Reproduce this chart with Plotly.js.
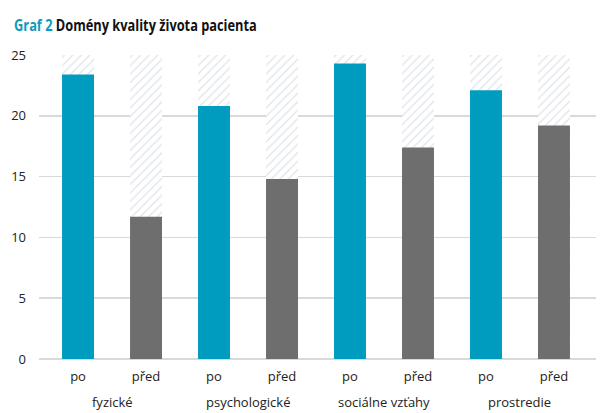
<!DOCTYPE html>
<html>
<head>
<meta charset="utf-8">
<script src="https://cdn.plot.ly/plotly-3.0.1.min.js"></script>
<style>html,body{margin:0;padding:0;background:#fff;}#chart{width:611px;height:413px;}</style>
</head>
<body>
<div id="chart"></div>
<script>
const groupNames = ["fyzické", "psychologické", "sociálne vzťahy", "prostredie"];
const groups = ["fyzické", "fyzické", "psychologické", "psychologické", "sociálne vzťahy", "sociálne vzťahy", "prostredie", "prostredie"];
const periods = ["po", "před", "po", "před", "po", "před", "po", "před"];
const values = [23.4, 11.7, 20.8, 14.8, 24.3, 17.4, 22.1, 19.2];
const maxScore = [25, 25, 25, 25, 25, 25, 25, 25];
const colorPo = "#009cc0";
const colorPred = "#6e6e6e";

const cats = groups.map((g, i) => g + "|" + periods[i]);
const barColors = periods.map(p => p === "po" ? colorPo : colorPred);

const bgTrace = {
  type: "bar",
  x: cats,
  y: maxScore,
  width: 0.47,
  marker: {
    color: "#ffffff",
    line: {width: 0},
    pattern: {shape: "/", fgcolor: "#dfe3e9", bgcolor: "#ffffff", size: 6, solidity: 0.2}
  },
  hoverinfo: "skip",
  showlegend: false
};
const dataTrace = {
  type: "bar",
  x: cats,
  y: values,
  width: 0.47,
  marker: {color: barColors, line: {width: 0}},
  showlegend: false
};

const tickFont = {size: 13, color: "#222222", family: "Open Sans, sans-serif"};

const groupAnnotations = groupNames.map(g => {
  const idx = groups.map((v, i) => v === g ? i : -1).filter(i => i >= 0);
  const mid = (idx[0] + idx[idx.length - 1]) / 2;
  return {
    text: g, x: mid, xref: "x", y: -0.141, yref: "paper",
    xanchor: "center", yanchor: "middle", showarrow: false, font: tickFont
  };
});

const layout = {
  width: 611,
  height: 413,
  margin: {l: 39, r: 15, t: 55, b: 54},
  paper_bgcolor: "#ffffff",
  plot_bgcolor: "#ffffff",
  barmode: "overlay",
  title: {
    text: "<span style='color:#0a9bbd'>Graf 2</span> Domény kvality života pacienta",
    font: {family: "Open Sans, sans-serif", size: 15.5, color: "#111111", weight: 700},
    x: 0.023, xanchor: "left", y: 0.937, yanchor: "middle"
  },
  font: {family: "Open Sans, Noto Sans, sans-serif", size: 12, color: "#222222"},
  xaxis: {
    type: "category",
    range: [-0.574, 7.618],
    tickvals: cats,
    ticktext: periods,
    showline: false,
    ticks: "",
    ticklabelstandoff: 8,
    tickfont: tickFont,
    showgrid: false,
    zeroline: false
  },
  yaxis: {
    range: [0, 25],
    tickvals: [0, 5, 10, 15, 20, 25],
    showgrid: true,
    gridcolor: "#d9d9d9",
    gridwidth: 1.5,
    zeroline: true,
    zerolinecolor: "#d9d9d9",
    zerolinewidth: 1.5,
    ticks: "",
    ticklabelstandoff: 12,
    tickfont: tickFont
  },
  annotations: groupAnnotations
};

Plotly.newPlot("chart", [bgTrace, dataTrace], layout, {displayModeBar: false, staticPlot: true}).then(gd => {
  const g = gd.querySelector(".g-gtitle");
  const t = gd.querySelector(".gtitle");
  if (g && t) {
    const bb = t.getBBox();
    const s = 243 / bb.width;
    const x0 = bb.x;
    g.setAttribute("transform", "translate(" + x0 + ",0) scale(" + s + ",1) translate(" + (-x0) + ",0)");
  }
});
</script>
</body>
</html>
